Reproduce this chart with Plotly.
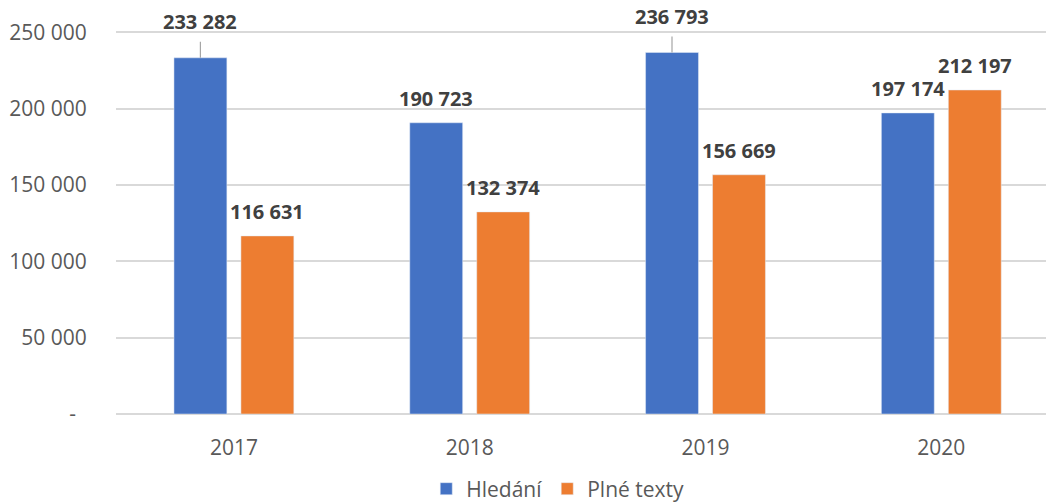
import plotly.graph_objects as go

# ── data ────────────────────────────────────────────────────────────────
YEARS = ["2017", "2018", "2019", "2020"]
HLEDANI = [233282, 190723, 236793, 197174]
PLNE_TEXTY = [116631, 132374, 156669, 212197]
Y_TICKS = [0, 50000, 100000, 150000, 200000, 250000]
Y_TICK_TEXT = ["-\u00a0\u00a0", "50 000", "100 000", "150 000", "200 000", "250 000"]
LEADER = {("Hledání", "2017"), ("Hledání", "2019")}  # labels with leader line

BLUE = "#4472C4"
ORANGE = "#ED7D31"
TEXT = "#595959"
LABEL = "#404040"
GRID = "#D9D9D9"
FONT = "Open Sans, Noto Sans, sans-serif"


def _fmt(v):
    return f"{v:,}".replace(",", " ")


def _labels(name, values, shift):
    anns = []
    for i, (cat, v) in enumerate(zip(YEARS, values)):
        base = dict(
            x=i, y=v, xref="x", yref="y", xshift=shift,
            text=f"<b>{_fmt(v)}</b>",
            font=dict(family=FONT, size=20, color=LABEL),
        )
        if (name, cat) in LEADER:
            base.update(showarrow=True, arrowhead=0, arrowwidth=1.2,
                        arrowcolor="#A6A6A6", ax=0, ay=-36, startstandoff=5)
        else:
            base.update(showarrow=False, yanchor="middle", yshift=24)
        anns.append(base)
    return anns


fig = go.Figure()
fig.add_trace(go.Bar(x=YEARS, y=HLEDANI, name="Hledání", marker_color=BLUE))
fig.add_trace(go.Bar(x=YEARS, y=PLNE_TEXTY, name="Plné texty", marker_color=ORANGE))

fig.update_layout(
    width=1046, height=503,
    paper_bgcolor="#ffffff", plot_bgcolor="#ffffff",
    font=dict(family=FONT, size=20, color=TEXT),
    margin=dict(l=116, r=0, t=17, b=89, autoexpand=False),
    barmode="group", bargap=0.432, bargroupgap=0.21,
    showlegend=True,
    legend=dict(orientation="h", x=0.475, xanchor="center", y=-0.189, yanchor="middle",
                itemwidth=30, font=dict(size=21, color=TEXT), traceorder="normal"),
    xaxis=dict(type="category", range=[-0.5, 3.444], showgrid=False, zeroline=False,
               showline=False, ticks="outside", ticklen=15,
               tickcolor="rgba(0,0,0,0)", tickfont=dict(size=21, color=TEXT)),
    yaxis=dict(range=[0, 260000], tickvals=Y_TICKS, ticktext=Y_TICK_TEXT,
               showgrid=True, gridcolor=GRID, gridwidth=1.5,
               zeroline=True, zerolinecolor=GRID, zerolinewidth=1.5,
               ticks="outside", ticklen=24, tickcolor="rgba(0,0,0,0)",
               tickfont=dict(size=21, color=TEXT)),
    annotations=_labels("Hledání", HLEDANI, -33.5) + _labels("Plné texty", PLNE_TEXTY, 33.5),
)

fig.write_html(
    "out.html",
    config={"displayModeBar": False},
    post_script="document.body.style.margin='0';document.body.style.overflow='hidden';",
)
